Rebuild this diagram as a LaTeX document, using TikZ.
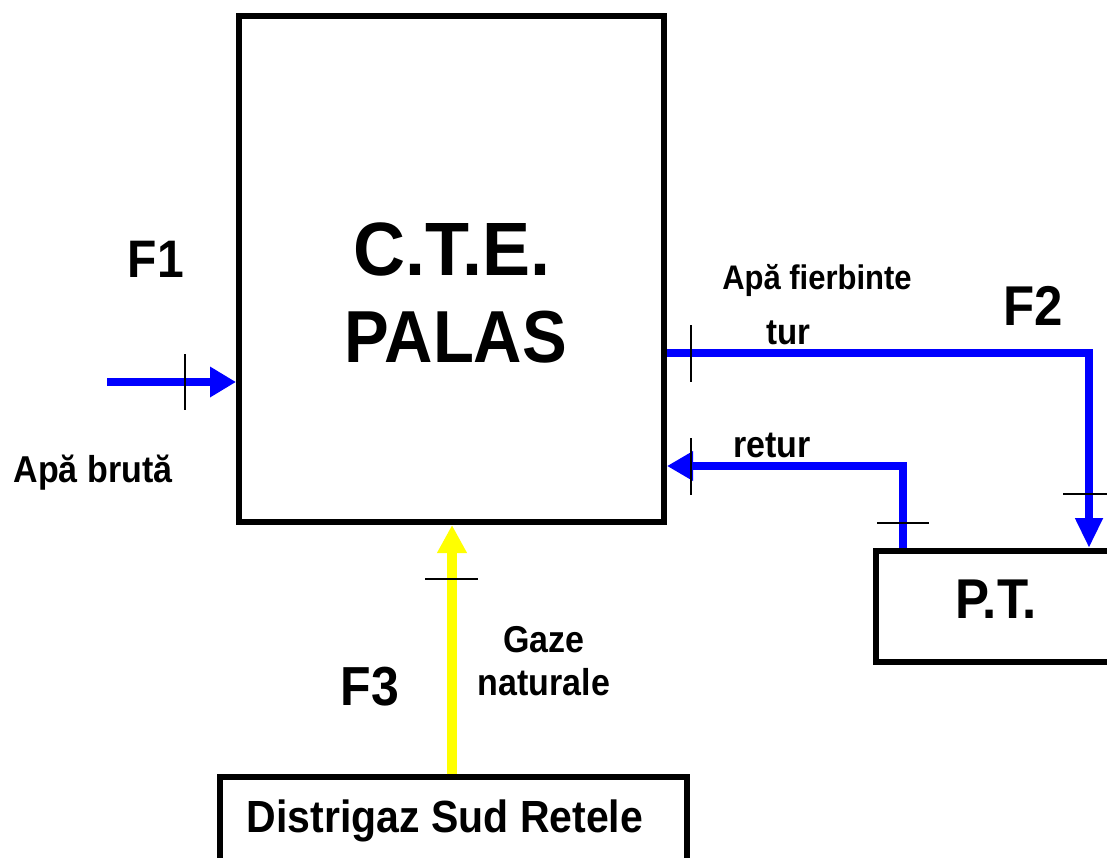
\documentclass[tikz,border=0pt]{standalone}
\usepackage{fontspec}
\usepackage{graphicx}
\setmainfont{Liberation Sans}
\usetikzlibrary{arrows.meta,calc}
\newcommand{\talltext}[1]{\scalebox{1}[1.1]{#1}}
\newcommand{\fsz}[1]{\fontsize{#1}{#1}\selectfont}
\definecolor{pipeblue}{RGB}{0,0,255}
\definecolor{gasyellow}{RGB}{255,255,0}
\tikzset{
  boxnode/.style={draw=black, line width=6pt, inner sep=0pt, rectangle},
  lbl/.style={inner sep=0pt, anchor=base, font=\bfseries},
  bluepipe/.style={draw=pipeblue, line width=8.5pt},
  gaspipe/.style={draw=gasyellow, line width=10pt},
  tickmark/.style={draw=black, line width=2.5pt},
}
\begin{document}
\begin{tikzpicture}[x=1pt,y=-1pt]
\useasboundingbox (0,0) rectangle (1107,857);

% boxes
\node[boxnode, minimum width=425pt, minimum height=506pt] (cte) at (451.5,269) {};
\node[boxnode, minimum width=240pt, minimum height=111pt] (pt) at (996,606.5) {};
\node[boxnode, minimum width=467pt, minimum height=103pt] (dsr) at (453.5,828.5) {};

% box texts
\node[lbl] (cteA) at (452,275) {\fsz{72}\scalebox{1}[1.05]{C.T.E.}};
\node[lbl] (cteB) at (456,362) {\fsz{67}\talltext{PALAS}};
\node[lbl] (ptt) at (996,618) {\fsz{51}\talltext{P.T.}};
\node[lbl] (dsrt) at (445,832) {\fsz{41}\talltext{Distrigaz Sud Retele}};

% labels
\node[lbl] (f1) at (156,277) {\fsz{48}\talltext{F1}};
\node[lbl] (apab) at (93,482) {\fsz{34}\talltext{Apă brută}};
\node[lbl] (apaf) at (817,289) {\fsz{31}\talltext{Apă fierbinte}};
\node[lbl] (f2) at (1033,325) {\fsz{51}\talltext{F2}};
\node[lbl] (tur) at (788,344) {\fsz{33}\talltext{tur}};
\node[lbl] (retur) at (772,457) {\fsz{34}\talltext{retur}};
\node[lbl] (f3) at (370,705) {\fsz{50}\talltext{F3}};
\node[lbl] (gaze) at (544,652) {\fsz{34}\talltext{Gaze}};
\node[lbl] (nat) at (544,695) {\fsz{34}\talltext{naturale}};

% coordinates
\coordinate (inS) at (107,382);
\coordinate (turC) at (1089,353);
\coordinate (retC) at (903,466);
\coordinate (gasX) at (452,600);

% F1 input
\draw[bluepipe, -{Triangle[length=26pt,width=29pt]}] (inS) -- (inS -| cte.west);
% tur
\draw[bluepipe, -{Triangle[length=30pt,width=26pt]}] (cte.east |- turC) -- (turC) -- (turC |- pt.north);
% retur
\draw[bluepipe, -{Triangle[length=26pt,width=28pt]}] (retC |- pt.north) -- (retC) -- (retC -| cte.east);
% gas
\draw[gaspipe, -{Triangle[length=28pt,width=28pt]}] (gasX |- dsr.north) -- (gasX |- cte.south);

% tick marks
\draw[tickmark] (185,354) -- (185,410);
\draw[tickmark] (691,325) -- (691,382);
\draw[tickmark] (691,438) -- (691,495);
\draw[tickmark] (1063,494) -- (1115,494);
\draw[tickmark] (877,523) -- (929,523);
\draw[tickmark] (425,579) -- (478,579);
\end{tikzpicture}
\end{document}
